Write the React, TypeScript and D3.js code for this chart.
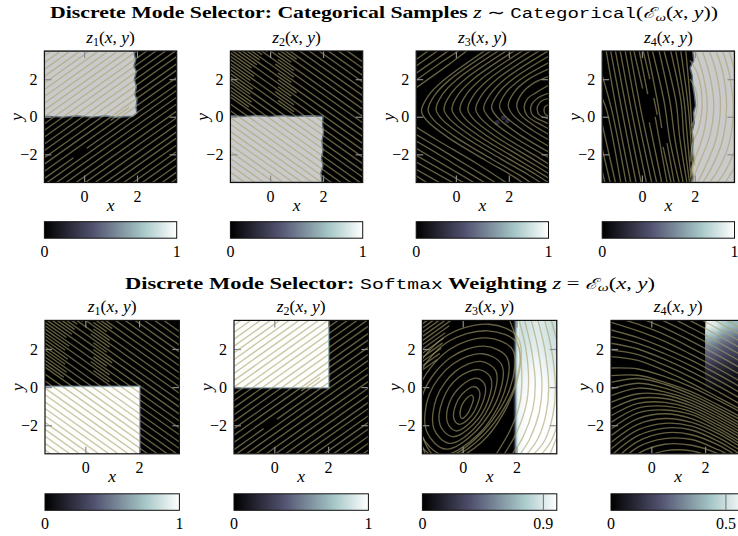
import React, { useEffect, useRef } from 'react'
import * as d3 from 'd3'

type Pt = [number, number]

const xTicks = [0, 2]
const yTicks = [-2, 0, 2]
const xDomain = [-1.5, 3.5]
const yDomain = [-3.5, 3.5]
const modeNames = ['1', '2', '3', '4']

// matplotlib "bone"
const boneStops = [0, 0.365, 0.746, 1]
const boneColors = ['#000000', '#51516f', '#a6c7c7', '#ffffff']

// straight streamlines: [offset, xStart, xEnd], y = slope * x + offset
const risingLines = [
  [-6.8], [-6.45], [-6.08], [-5.7], [-5.35], [-5], [-4.62], [-4.3], [-3.92], [-3.55],
  [-3.2], [-2.82], [-2.46], [-2.1], [-1.78, -1.5, -0.4], [-1.78, 0.1, 3.5], [-1.4], [-1.02], [-0.68],
  [-0.3], [0.05], [0.42], [0.78], [1.13], [1.5], [1.85], [2.22], [2.58], [2.95], [3.3], [3.65], [4.02], [4.38], [4.75],
]
const risingExtra = [[-1.2, 1.0, 1.7]]
const fallingLines = [
  [-4.8], [-4.45], [-4.08], [-3.72], [-3.35], [-3.0], [-2.62], [-2.28], [-1.9], [-1.55],
  [-1.18], [-0.82], [-0.45], [-0.1], [0.28], [0.62], [1.0], [1.35], [1.72], [2.08], [2.45], [2.8], [3.18], [3.52],
  [3.9], [4.25], [4.62], [4.98], [5.35], [5.7], [6.08], [6.42],
]
const fallingExtra = [
  [-0.28, -1.5, -0.8], [0.08, -1.5, -0.7], [0.45, -1.5, -0.75], [0.81, -1.5, -0.65], [1.18, -1.5, -0.75], [1.54, -1.5, -0.6],
  [1.9, -1.5, -0.7], [2.27, -1.5, -0.5], [2.63, -1.5, -0.4], [3.0, -1.5, -0.3], [3.35, -1.4, -0.1],
  [1.17, 0.3, 0.9], [1.54, 0.2, 0.9], [1.9, 0.3, 0.8], [2.27, 0.3, 1.0], [2.63, 0.3, 0.8], [3.0, 0.2, 0.9],
  [3.35, 0.3, 0.9], [3.7, 0.3, 0.8], [4.07, 0.4, 1.0],
]

// top row, z3: chevrons opening to the right
const curvesTop3: Pt[][] = [
  [[1.5, 3.9], [-0.5, 1.9], [-1.05, 1.1], [-1.3, 0.3], [-1.1, -0.2], [-0.33, -1.07], [1.1, -2.3], [2.2, -3.2], [2.6, -3.6]],
  [[1.75, 3.9], [-0.25, 1.95], [-0.8, 1.15], [-1.05, 0.35], [-0.85, -0.15], [-0.08, -1.02], [1.35, -2.25], [2.45, -3.15], [2.9, -3.6]],
  [[2.05, 3.9], [0.05, 2.0], [-0.5, 1.2], [-0.75, 0.4], [-0.55, -0.1], [0.22, -0.97], [1.65, -2.2], [2.75, -3.1], [3.3, -3.6]],
  [[2.35, 3.9], [0.35, 2.0], [-0.2, 1.2], [-0.45, 0.4], [-0.25, -0.1], [0.52, -0.97], [1.95, -2.2], [3.05, -3.1], [3.6, -3.6]],
  [[2.65, 3.9], [0.65, 2.0], [0.1, 1.2], [-0.15, 0.4], [0.05, -0.1], [0.82, -0.97], [2.25, -2.2], [3.6, -3.35]],
  [[2.95, 3.9], [0.95, 2.0], [0.4, 1.2], [0.15, 0.4], [0.35, -0.1], [1.12, -0.97], [2.55, -2.2], [3.6, -3.1]],
  [[3.25, 3.9], [1.25, 2.0], [0.7, 1.2], [0.45, 0.4], [0.65, -0.1], [1.42, -0.97], [2.85, -2.2], [3.6, -2.85]],
  [[3.6, 3.9], [1.55, 2.0], [1.0, 1.2], [0.75, 0.4], [0.95, -0.1], [1.72, -0.97], [3.15, -2.2], [3.6, -2.6]],
  [[3.6, 3.6], [1.85, 2.0], [1.3, 1.2], [1.05, 0.45], [1.25, -0.05], [2.02, -0.92], [3.6, -2.25]],
  [[3.6, 3.3], [2.15, 2.0], [1.6, 1.25], [1.35, 0.5], [1.55, 0], [2.32, -0.87], [3.6, -1.95]],
  [[3.6, 2.95], [2.45, 2.0], [1.9, 1.3], [1.65, 0.55], [1.85, 0.05], [2.62, -0.8], [3.6, -1.65]],
  [[3.6, 2.6], [2.7, 1.95], [2.2, 1.3], [1.98, 0.6], [2.15, 0.1], [2.9, -0.72], [3.6, -1.3]],
  [[3.6, 2.2], [2.95, 1.8], [2.5, 1.25], [2.3, 0.6], [2.45, 0.1], [3.1, -0.6], [3.6, -1.0]],
  [[3.6, 1.75], [3.05, 1.3], [2.7, 0.95], [2.58, 0.5], [2.7, 0.05], [3.25, -0.45], [3.6, -0.7]],
  [[3.6, 1.3], [3.1, 1.0], [2.88, 0.7], [2.82, 0.4], [2.92, 0.05], [3.3, -0.25], [3.6, -0.42]],
  [[3.6, 1.0], [3.25, 0.85], [3.1, 0.6], [3.07, 0.4], [3.15, 0.1], [3.6, -0.15]],
  [[3.6, 0.7], [3.38, 0.55], [3.33, 0.35], [3.4, 0.1], [3.6, 0.02]],
  [[-1.5, 1.55], [-0.3, 2.75], [0.5, 3.6]], [[-1.5, 1.95], [-0.6, 2.85], [0.2, 3.6]],
  [[-1.5, 2.32], [-0.7, 3.1], [-0.2, 3.6]], [[-1.5, 2.7], [-0.7, 3.5]], [[-1.5, 3.05], [-1.05, 3.5]],
  [[-1.5, -0.55], [-0.7, -1.25], [0.8, -2.5], [2.0, -3.6]], [[-1.5, -0.95], [-0.7, -1.62], [0.5, -2.65], [1.6, -3.6]],
  [[-1.5, -1.3], [-0.6, -2.05], [0.2, -2.75], [1.2, -3.6]], [[-1.5, -1.68], [0.8, -3.6]], [[-1.5, -2.05], [0.4, -3.6]],
  [[-1.5, -2.42], [0, -3.6]], [[-1.5, -2.8], [-0.5, -3.6]], [[-1.5, -3.15], [-1.0, -3.6]],
]

// top row, z4: steep lines on the left, nested arcs around x = 2 on the right
const curvesTop4: Pt[][] = [
  [[-1.35, 3.5], [-0.95, 0.3], [-0.42, -3.5]], [[-1.18, 3.5], [-0.75, 0.3], [-0.22, -3.5]], [[-1.0, 3.5], [-0.57, 0.3], [-0.03, -3.5]],
  [[-0.82, 3.5], [-0.39, 0.3], [0.17, -3.5]], [[-0.63, 3.5], [-0.2, 0.3], [0.37, -3.5]], [[-0.45, 3.5], [-0.03, 0.3], [0.56, -3.5]],
  [[-1.5, 2.2], [-1.13, 0.3], [-0.6, -3.5]], [[-1.5, 1.0], [-1.32, 0.3], [-0.8, -3.5]], [[-1.5, -0.4], [-1.0, -3.5]],
  [[-1.5, -1.7], [-1.2, -3.5]], [[-1.5, -2.9], [-1.4, -3.5]],
  [[-0.3, 3.5], [0.03, 1.5]], [[0.28, -0.3], [0.75, -3.5]], [[-0.1, 3.5], [0.22, 1.2]], [[0.5, 0], [0.95, -3.5]], [[0.05, 3.5], [0.3, 2]],
  [[0.45, 1.0], [0.58, 0.1]], [[0.8, -1.6], [1.1, -3.5]],
  [[0.21, 3.5], [0.59, 0.8], [0.75, -0.6]], [[0.95, -1.4], [1.22, -3.5]],
  [[0.4, 3.5], [0.84, 0.8], [1.05, -1.2], [1.41, -3.5]], [[0.65, 3.5], [1.06, 0.8], [1.25, -1.2], [1.56, -3.5]],
  [[0.84, 3.5], [1.29, 0.8], [1.42, -1.0], [1.7, -3.5]], [[1.09, 3.5], [1.48, 0.8], [1.58, -1.0], [1.8, -3.5]],
  [[1.28, 3.5], [1.6, 0.8], [1.7, -0.8], [1.87, -3.5]], [[1.47, 3.5], [1.73, 0.8], [1.82, -0.6], [1.95, -3.5]],
  [[1.66, 3.5], [1.83, 0.8], [1.88, -0.4], [2.0, -2.6]],
  [[1.82, 2.0], [2.02, 1.5], [2.1, 0.75], [2.02, 0], [1.88, -0.5]],
  [[1.82, 3.0], [2.1, 2.3], [2.28, 0.7], [2.15, -0.6], [1.9, -1.5], [1.85, -2.4]],
  [[2.02, 3.5], [2.3, 2.3], [2.47, 0.7], [2.33, -0.9], [1.95, -2.5], [1.85, -3.2]],
  [[2.28, 3.5], [2.55, 2.3], [2.72, 0.6], [2.55, -1.1], [2.1, -2.7], [1.9, -3.5]],
  [[2.55, 3.5], [2.82, 2.3], [2.97, 0.6], [2.8, -1.2], [2.35, -2.8], [2.1, -3.5]],
  [[2.8, 3.5], [3.07, 2.3], [3.2, 0.5], [3.02, -1.4], [2.6, -2.8], [2.3, -3.5]],
  [[3.05, 3.5], [3.3, 2.3], [3.45, 0.5], [3.3, -1.4], [2.85, -2.9], [2.55, -3.5]],
  [[3.3, 3.5], [3.55, 2.2]], [[3.6, -1.5], [3.15, -2.9], [2.85, -3.5]], [[3.6, -2.5], [3.15, -3.5]],
]

// bottom row, z3: closed rings around the mode near (0.1, -1)
const ringsBottom3: Pt[][] = [
  [[0.33, -0.95], [0.4, -0.6], [0.33, -0.42], [0.14, -0.6], [-0.03, -0.95], [-0.1, -1.44], [-0.03, -1.65], [0.16, -1.44]],
  [[0.55, -0.9], [0.63, -0.25], [0.44, 0.02], [0.07, -0.25], [-0.25, -0.9], [-0.33, -1.65], [-0.14, -1.95], [0.23, -1.65]],
  [[0.75, -0.8], [0.83, 0.1], [0.52, 0.47], [-0.03, 0.1], [-0.49, -0.8], [-0.57, -1.85], [-0.26, -2.3], [0.29, -1.85]],
  [[0.95, -0.7], [1.04, 0.5], [0.6, 0.92], [-0.16, 0.5], [-0.75, -0.7], [-0.84, -2.0], [-0.39, -2.6], [0.36, -2.0]],
  [[1.13, -0.55], [1.23, 0.85], [0.67, 1.35], [-0.25, 0.85], [-0.97, -0.55], [-1.07, -2.2], [-0.51, -2.95], [0.41, -2.2]],
  [[1.35, -0.4], [1.44, 1.2], [0.72, 1.75], [-0.38, 1.2], [-1.25, -0.4], [-1.34, -2.33], [-0.64, -3.25], [0.48, -2.33]],
  [[1.55, -0.25], [1.65, 1.55], [0.8, 2.15], [-0.45, 1.55], [-1.45, -0.25], [-1.55, -2.45], [-0.74, -3.55], [0.6, -2.45]],
  [[1.75, -0.1], [1.86, 1.95], [0.88, 2.58], [-0.52, 1.95], [-1.65, -0.1], [-1.76, -2.59], [-0.84, -3.75], [0.57, -2.59]],
  [[1.93, 0.05], [2.02, 2.3], [0.95, 2.95], [-0.63, 2.3], [-1.83, 0.05], [-1.96, -2.72], [-0.94, -3.9], [0.63, -2.72]],
  [[2.0, 0.2], [2.05, 2.6], [0.98, 3.3], [-0.7, 2.6], [-2.0, 0.2], [-2.1, -2.8], [-1, -4], [0.7, -2.9]],
]
const curvesBottom3: Pt[][] = [
  [[1.75, 3.5], [2.1, 2], [2.2, 0.3], [2.1, -1], [1.75, -2.3], [1.25, -3.5]],
  [[2.1, 3.5], [2.35, 2], [2.45, 0.3], [2.35, -1], [2, -2.4], [1.55, -3.5]],
  [[2.3, 3.5], [2.55, 2], [2.7, 0.2], [2.6, -1.2], [2.25, -2.6], [1.85, -3.5]],
  [[2.55, 3.5], [2.8, 2], [2.95, 0.1], [2.85, -1.3], [2.5, -2.7], [2.15, -3.5]],
  [[2.8, 3.5], [3.05, 2], [3.2, 0], [3.1, -1.4], [2.8, -2.7], [2.4, -3.5]],
  [[3.05, 3.5], [3.3, 2], [3.45, -0.1], [3.35, -1.5], [3.05, -2.8], [2.65, -3.5]],
  [[3.3, 3.5], [3.55, 2.2]], [[3.6, -1.6], [3.3, -2.8], [2.95, -3.5]], [[3.6, -2.3], [3.25, -3.5]],
  [[-1.5, -2.6], [-1.3, -3.2], [-1.15, -3.5]], [[-1.5, -3.1], [-1.4, -3.5]],
]
const hatchBottom3 = [
  [2.4, -1.5, -0.95], [2.62, -1.5, -0.85], [2.84, -1.5, -0.8], [3.06, -1.5, -0.75], [3.28, -1.5, -0.7], [3.5, -1.5, -0.65],
  [3.72, -1.5, -0.5], [3.94, -1.5, -0.44], [4.16, -1.5, -0.66], [4.38, -1.5, -0.88], [4.6, -1.5, -1.1], [4.82, -1.5, -1.32],
]

// bottom row, z4: y of each streamline at these x positions
const bottom4Xs = [-1.5, -0.5, 0.5, 1.5, 2.5, 3.5]
const bottom4Lines = [
  [7.2, 6.6, 5.9, 5.2, 4.45, 3.65], [6.85, 6.25, 5.55, 4.85, 4.1, 3.3], [6.5, 5.9, 5.2, 4.5, 3.75, 2.95], [6.15, 5.55, 4.85, 4.15, 3.4, 2.6],
  [5.8, 5.2, 4.5, 3.8, 3.05, 2.25], [5.15, 4.7, 4.15, 3.45, 2.7, 1.9], [4.8, 4.35, 3.8, 3.1, 2.35, 1.55], [4.45, 4, 3.45, 2.75, 2, 1.2],
  [4.1, 3.65, 3.1, 2.4, 1.65, 0.85], [3.75, 3.3, 2.75, 2.05, 1.3, 0.5], [3.4, 2.95, 2.4, 1.7, 0.95, 0.15], [3.0, 2.6, 2.05, 1.4, 0.65, -0.15],
  [2.65, 2.3, 1.75, 1.1, 0.35, -0.45], [2.3, 2.0, 1.45, 0.8, 0.05, -0.75], [1.95, 1.7, 1.15, 0.5, -0.25, -1.05], [1.6, 1.4, 0.85, 0.2, -0.55, -1.3],
  [1.0, 0.95, 0.55, 0, -0.7, -1.45], [0.6, 0.62, 0.25, -0.25, -0.95, -1.7], [0.25, 0.45, 0.15, -0.4, -1.1, -1.85], [-0.1, 0.2, -0.05, -0.55, -1.25, -2.05],
  [-0.45, -0.05, -0.25, -0.7, -1.4, -2.2], [-0.8, -0.35, -0.4, -0.85, -1.55, -2.35], [-1.15, -0.6, -0.6, -1, -1.7, -2.5], [-1.5, -0.85, -0.8, -1.15, -1.85, -2.65],
  [-1.85, -1.1, -1, -1.3, -2, -2.8], [-2.2, -1.35, -1.2, -1.45, -2.15, -3], [-2.55, -1.65, -1.4, -1.65, -2.3, -3.15], [-2.9, -1.95, -1.65, -1.85, -2.45, -3.3],
  [-3.25, -2.25, -1.9, -2.05, -2.65, -3.5], [-3.6, -2.55, -2.15, -2.25, -2.85, -3.7], [-4, -2.85, -2.4, -2.5, -3.05, -3.9], [-4.4, -3.15, -2.7, -2.75, -3.3, -4],
  [-4.9, -3.5, -3, -3.05, -3.5, -4.2], [-5.5, -3.9, -3.35, -3.35, -3.8, -4.4],
]

const regionTop1: Pt[] = [[-1.5, 3.5], [1.88, 3.5], [1.95, 3], [1.88, 2.7], [1.98, 2.4], [1.9, 2], [1.98, 1.6], [1.92, 1.2], [2, 0.9], [1.96, 0.5], [2, 0.2], [1.85, 0.03], [1.2, -0.03], [0.8, 0.04], [0.3, -0.02], [-0.3, 0.04], [-0.8, -0.02], [-1.5, 0.03]]
const regionTop2: Pt[] = [[-1.5, -3.5], [1.96, -3.5], [1.92, -3], [2, -2.6], [1.94, -2.2], [2, -1.8], [1.96, -1.3], [2.02, -0.8], [1.98, -0.4], [2, 0.03], [1.4, 0.05], [0.9, 0.02], [0.5, 0.06], [0, 0.02], [-0.5, 0.06], [-1.0, 0.02], [-1.5, 0.05]]
const regionTop4: Pt[] = [[3.5, 3.5], [1.92, 3.5], [1.96, 3], [1.82, 2.6], [1.9, 2.2], [1.92, 1.7], [1.98, 1.2], [2.03, 0.6], [1.95, 0.2], [1.98, -0.3], [1.9, -0.8], [1.95, -1.3], [1.9, -1.8], [1.96, -2.3], [1.86, -2.8], [1.94, -3.2], [1.92, -3.5], [3.5, -3.5]]
const blotchesTop3: Pt[] = [[1.56, -0.3], [1.79, -0.05], [1.94, -0.23]]

// softmax values on a coarse grid, rows from the top of the region down
const softmaxZ3 = [
  [0.86, 0.86, 0.88, 0.9, 0.9, 0.88, 0.86, 0.84],
  [0.88, 0.88, 0.9, 0.92, 0.92, 0.9, 0.88, 0.87],
  [0.92, 0.92, 0.94, 0.96, 0.96, 0.94, 0.92, 0.9],
  [0.94, 0.96, 0.98, 0.99, 0.99, 0.98, 0.96, 0.94],
  [0.95, 0.98, 1, 1, 1, 1, 0.98, 0.97],
  [0.96, 0.99, 1, 1, 1, 1, 0.99, 0.98],
  [0.96, 1, 1, 1, 1, 1, 1, 0.99],
  [0.96, 1, 1, 1, 1, 1, 1, 1],
]
const softmaxZ3Edge = [[0.08, 0.45, 0.78, 0.94]]
const softmaxZ4 = [
  [0.95, 0.9, 0.8, 0.72, 0.7, 0.68],
  [0.75, 0.72, 0.6, 0.55, 0.5, 0.48],
  [0.55, 0.5, 0.42, 0.4, 0.35, 0.33],
  [0.4, 0.38, 0.33, 0.3, 0.28, 0.26],
  [0.28, 0.25, 0.22, 0.2, 0.18, 0.17],
  [0.15, 0.15, 0.13, 0.12, 0.1, 0.1],
  [0.08, 0.08, 0.06, 0.06, 0.05, 0.05],
  [0.01, 0.01, 0.01, 0.01, 0.01, 0.01],
]

const barTicks = [
  [[0, '0'], [1, '1']],
  [[0, '0'], [0.9, '0.9']],
  [[0, '0'], [0.855, '0.5']],
]

const serif = '"Liberation Serif", serif'
const mono = '"Liberation Mono", monospace'
const streamColor = 'rgb(168,160,108)'

const bone = d3.scaleLinear<string>().domain(boneStops).range(boneColors)

export default function App() {
  const ref = useRef<SVGSVGElement>(null)

  useEffect(() => {
    const svg = d3.select(ref.current)
    svg.selectAll('*').remove()

    const defs = svg.append('defs')
    const grad = defs.append('linearGradient').attr('id', 'bone')
    boneStops.forEach((s, i) => grad.append('stop').attr('offset', s).attr('stop-color', boneColors[i]))

    const lineGen = d3.line().curve(d3.curveCatmullRom.alpha(0.5))
    const ringGen = d3.line().curve(d3.curveCatmullRomClosed.alpha(0.5))
    const fmt = d3.format('d')

    const drawPanel = (left: number, top: number, w: number, h: number, id: string, mode: string, barTop: number, barLabels: any, paint: (g: any, x: any, y: any) => void) => {
      const x = d3.scaleLinear().domain(xDomain).range([left, left + w])
      const y = d3.scaleLinear().domain(yDomain).range([top + h, top])

      defs.append('clipPath').attr('id', id).append('rect').attr('x', left).attr('y', top).attr('width', w).attr('height', h)
      const g = svg.append('g').attr('clip-path', `url(#${id})`)
      g.append('rect').attr('x', left).attr('y', top).attr('width', w).attr('height', h).attr('fill', '#000')
      paint(g, x, y)

      const styleAxis = (a: any) => {
        a.select('.domain').remove()
        a.selectAll('line').attr('stroke', '#8c8c8c').attr('stroke-width', 1.2)
        a.attr('font-family', serif).attr('font-size', 16)
        a.selectAll('text').attr('fill', '#000')
      }
      svg.append('g').attr('transform', `translate(0,${top + h})`)
        .call(d3.axisBottom(x).tickValues(xTicks).tickFormat(fmt).tickSize(-7).tickPadding(8)).call(styleAxis)
      svg.append('g').attr('transform', `translate(${left},0)`)
        .call(d3.axisLeft(y).tickValues(yTicks).tickFormat(fmt).tickSize(-7).tickPadding(7)).call(styleAxis)
      svg.append('g').attr('transform', `translate(0,${top})`)
        .call(d3.axisTop(x).tickValues(xTicks).tickSize(-7).tickFormat(() => '')).call(styleAxis)
      svg.append('g').attr('transform', `translate(${left + w},0)`)
        .call(d3.axisRight(y).tickValues(yTicks).tickSize(-7).tickFormat(() => '')).call(styleAxis)

      svg.append('rect').attr('x', left).attr('y', top).attr('width', w).attr('height', h)
        .attr('fill', 'none').attr('stroke', '#111').attr('stroke-width', 1.2)

      // panel title z_i(x, y)
      const t = svg.append('text').attr('x', left + w / 2).attr('y', top - 8).attr('text-anchor', 'middle')
        .attr('font-family', serif).attr('font-size', 17.5)
      t.append('tspan').attr('font-style', 'italic').text('z')
      t.append('tspan').attr('font-size', 12).attr('dy', 3).text(mode)
      t.append('tspan').attr('dy', -3).text('(')
      t.append('tspan').attr('font-style', 'italic').text('x')
      t.append('tspan').text(', ')
      t.append('tspan').attr('font-style', 'italic').text('y')
      t.append('tspan').text(')')

      svg.append('text').attr('x', left + w / 2).attr('y', top + h + 28.5).attr('text-anchor', 'middle')
        .attr('font-family', serif).attr('font-size', 17.5).attr('font-style', 'italic').text('x')
      svg.append('text').attr('transform', `translate(${left - 22},${top + h / 2}) rotate(-90)`).attr('text-anchor', 'middle')
        .attr('font-family', serif).attr('font-size', 17.5).attr('font-style', 'italic').text('y')

      // colorbar
      const barH = 16.5
      const bx = d3.scaleLinear().domain([0, 1]).range([left, left + w])
      svg.append('rect').attr('x', left).attr('y', barTop).attr('width', w).attr('height', barH)
        .attr('fill', 'url(#bone)').attr('stroke', '#111').attr('stroke-width', 1)
      barLabels.forEach(([v, s]: [number, string]) => {
        if (v > 0 && v < 1) {
          svg.append('line').attr('x1', bx(v)).attr('x2', bx(v)).attr('y1', barTop).attr('y2', barTop + barH)
            .attr('stroke', '#6e6e6e').attr('stroke-width', 1)
        }
        svg.append('text').attr('x', bx(v)).attr('y', barTop + barH + 19).attr('text-anchor', 'middle')
          .attr('font-family', serif).attr('font-size', 16).text(s)
      })
    }

    const strokeStyle = (sel: any) => sel.attr('fill', 'none').attr('stroke', streamColor)
      .attr('stroke-width', 1.35).attr('stroke-opacity', 0.6)

    const straight = (g: any, x: any, y: any, list: number[][], slope: number) => {
      list.forEach(([c, x0 = -1.5, x1 = 3.5]) => {
        g.append('line').attr('x1', x(x0)).attr('y1', y(slope * x0 + c)).attr('x2', x(x1)).attr('y2', y(slope * x1 + c))
          .call(strokeStyle)
      })
    }
    const curves = (g: any, x: any, y: any, list: Pt[][], gen = lineGen) => {
      list.forEach((c) => {
        g.append('path').attr('d', gen(c.map(([a, b]) => [x(a), y(b)] as Pt))).call(strokeStyle)
      })
    }
    const region = (g: any, x: any, y: any, pts: Pt[]) => {
      g.append('polygon').attr('points', pts.map(([a, b]) => `${x(a)},${y(b)}`).join(' '))
        .attr('fill', '#cacaca').attr('stroke', '#56687c').attr('stroke-width', 1.4).attr('stroke-linejoin', 'round')
    }
    const softRect = (g: any, x: any, y: any, x0: number, x1: number, y0: number, y1: number) => {
      g.append('rect').attr('x', x(x0) - 2).attr('y', y(y1) - 2).attr('width', x(x1) - x(x0) + 4).attr('height', y(y0) - y(y1) + 4).attr('fill', '#34344a')
      g.append('rect').attr('x', x(x0) - 1).attr('y', y(y1) - 1).attr('width', x(x1) - x(x0) + 2).attr('height', y(y0) - y(y1) + 2).attr('fill', '#8fb0b8')
      g.append('rect').attr('x', x(x0)).attr('y', y(y1)).attr('width', x(x1) - x(x0)).attr('height', y(y0) - y(y1)).attr('fill', '#fdfdfb')
    }
    const heat = (g: any, x: any, y: any, z: number[][], x0: number, x1: number, y0: number, y1: number) => {
      const canvas = document.createElement('canvas')
      canvas.width = z[0].length
      canvas.height = z.length
      const ctx = canvas.getContext('2d')!
      z.forEach((row, j) => row.forEach((v, i) => {
        ctx.fillStyle = bone(v)
        ctx.fillRect(i, j, 1, 1)
      }))
      g.append('image').attr('href', canvas.toDataURL()).attr('x', x(x0)).attr('y', y(y1))
        .attr('width', x(x1) - x(x0)).attr('height', y(y0) - y(y1)).attr('preserveAspectRatio', 'none')
    }

    const barsTop = 221.7
    const barsBottom = 493.8
    const topW = 132.3
    const topH = 131.5
    const botW = 134.4
    const botH = 133.4

    drawPanel(44.4, 51, topW, topH, 'p1', modeNames[0], barsTop, barTicks[0], (g, x, y) => {
      region(g, x, y, regionTop1)
      straight(g, x, y, risingLines, 1)
      straight(g, x, y, risingExtra, 1)
    })
    drawPanel(230.4, 51, topW, topH, 'p2', modeNames[1], barsTop, barTicks[0], (g, x, y) => {
      region(g, x, y, regionTop2)
      straight(g, x, y, fallingLines, -1)
      straight(g, x, y, fallingExtra, -1)
    })
    drawPanel(416.2, 51, topW, topH, 'p3', modeNames[2], barsTop, barTicks[0], (g, x, y) => {
      blotchesTop3.forEach(([a, b]) => {
        g.append('circle').attr('cx', x(a)).attr('cy', y(b)).attr('r', 2.4).attr('fill', '#2b2b3e')
      })
      curves(g, x, y, curvesTop3)
    })
    drawPanel(602.2, 51, topW, topH, 'p4', modeNames[3], barsTop, barTicks[0], (g, x, y) => {
      region(g, x, y, regionTop4)
      curves(g, x, y, curvesTop4)
    })
    drawPanel(45, 320.4, botW, botH, 'p5', modeNames[0], barsBottom, barTicks[0], (g, x, y) => {
      softRect(g, x, y, -1.6, 2, -3.6, 0)
      straight(g, x, y, fallingLines, -1)
      straight(g, x, y, fallingExtra, -1)
    })
    drawPanel(234, 320.4, botW, botH, 'p6', modeNames[1], barsBottom, barTicks[0], (g, x, y) => {
      softRect(g, x, y, -1.6, 2, 0, 3.6)
      straight(g, x, y, risingLines, 1)
      straight(g, x, y, risingExtra, 1)
    })
    drawPanel(422.4, 320.4, botW, botH, 'p7', modeNames[2], barsBottom, barTicks[1], (g, x, y) => {
      heat(g, x, y, softmaxZ3, 2.03, 3.5, -3.5, 3.5)
      heat(g, x, y, softmaxZ3Edge, 1.88, 2.08, -3.5, 3.5)
      curves(g, x, y, ringsBottom3, ringGen)
      curves(g, x, y, curvesBottom3)
      straight(g, x, y, hatchBottom3, 1)
    })
    drawPanel(611, 320.4, botW, botH, 'p8', modeNames[3], barsBottom, barTicks[2], (g, x, y) => {
      heat(g, x, y, softmaxZ4, 2, 3.5, -0.5, 3.5)
      curves(g, x, y, bottom4Lines.map((ys) => ys.map((v, i) => [bottom4Xs[i], v] as Pt)))
    })

    // row titles
    const title = (baseline: number, start: number, length: number, build: (t: any) => void) => {
      const t = svg.append('text').attr('x', start).attr('y', baseline).attr('font-family', serif)
        .attr('font-size', 16).attr('textLength', length).attr('lengthAdjust', 'spacingAndGlyphs')
      build(t)
    }
    const subOmega = (t: any) => {
      t.append('tspan').attr('font-style', 'italic').attr('font-family', '"DejaVu Serif", serif').attr('font-size', 15).text('ℰ')
      t.append('tspan').attr('font-style', 'italic').attr('font-size', 11).attr('dy', 2.5).text('ω')
      t.append('tspan').attr('dy', -2.5).text('(')
      t.append('tspan').attr('font-style', 'italic').text('x')
      t.append('tspan').text(', ')
      t.append('tspan').attr('font-style', 'italic').text('y')
    }
    title(18, 50, 668, (t) => {
      t.append('tspan').attr('font-weight', 'bold').text('Discrete Mode Selector: Categorical Samples ')
      t.append('tspan').attr('font-style', 'italic').text('z')
      t.append('tspan').text(' ∼ ')
      t.append('tspan').attr('font-family', mono).attr('font-size', 14).text('Categorical')
      t.append('tspan').text('(')
      subOmega(t)
      t.append('tspan').text('))')
    })
    title(288.5, 125, 530, (t) => {
      t.append('tspan').attr('font-weight', 'bold').text('Discrete Mode Selector: ')
      t.append('tspan').attr('font-family', mono).attr('font-size', 14).text('Softmax')
      t.append('tspan').attr('font-weight', 'bold').text(' Weighting ')
      t.append('tspan').attr('font-style', 'italic').text('z')
      t.append('tspan').text(' = ')
      subOmega(t)
      t.append('tspan').text(')')
    })
  }, [])

  return <svg ref={ref} width={738} height={536} style={{ position: 'absolute', left: 0, top: 0, background: '#fff' }} />
}
